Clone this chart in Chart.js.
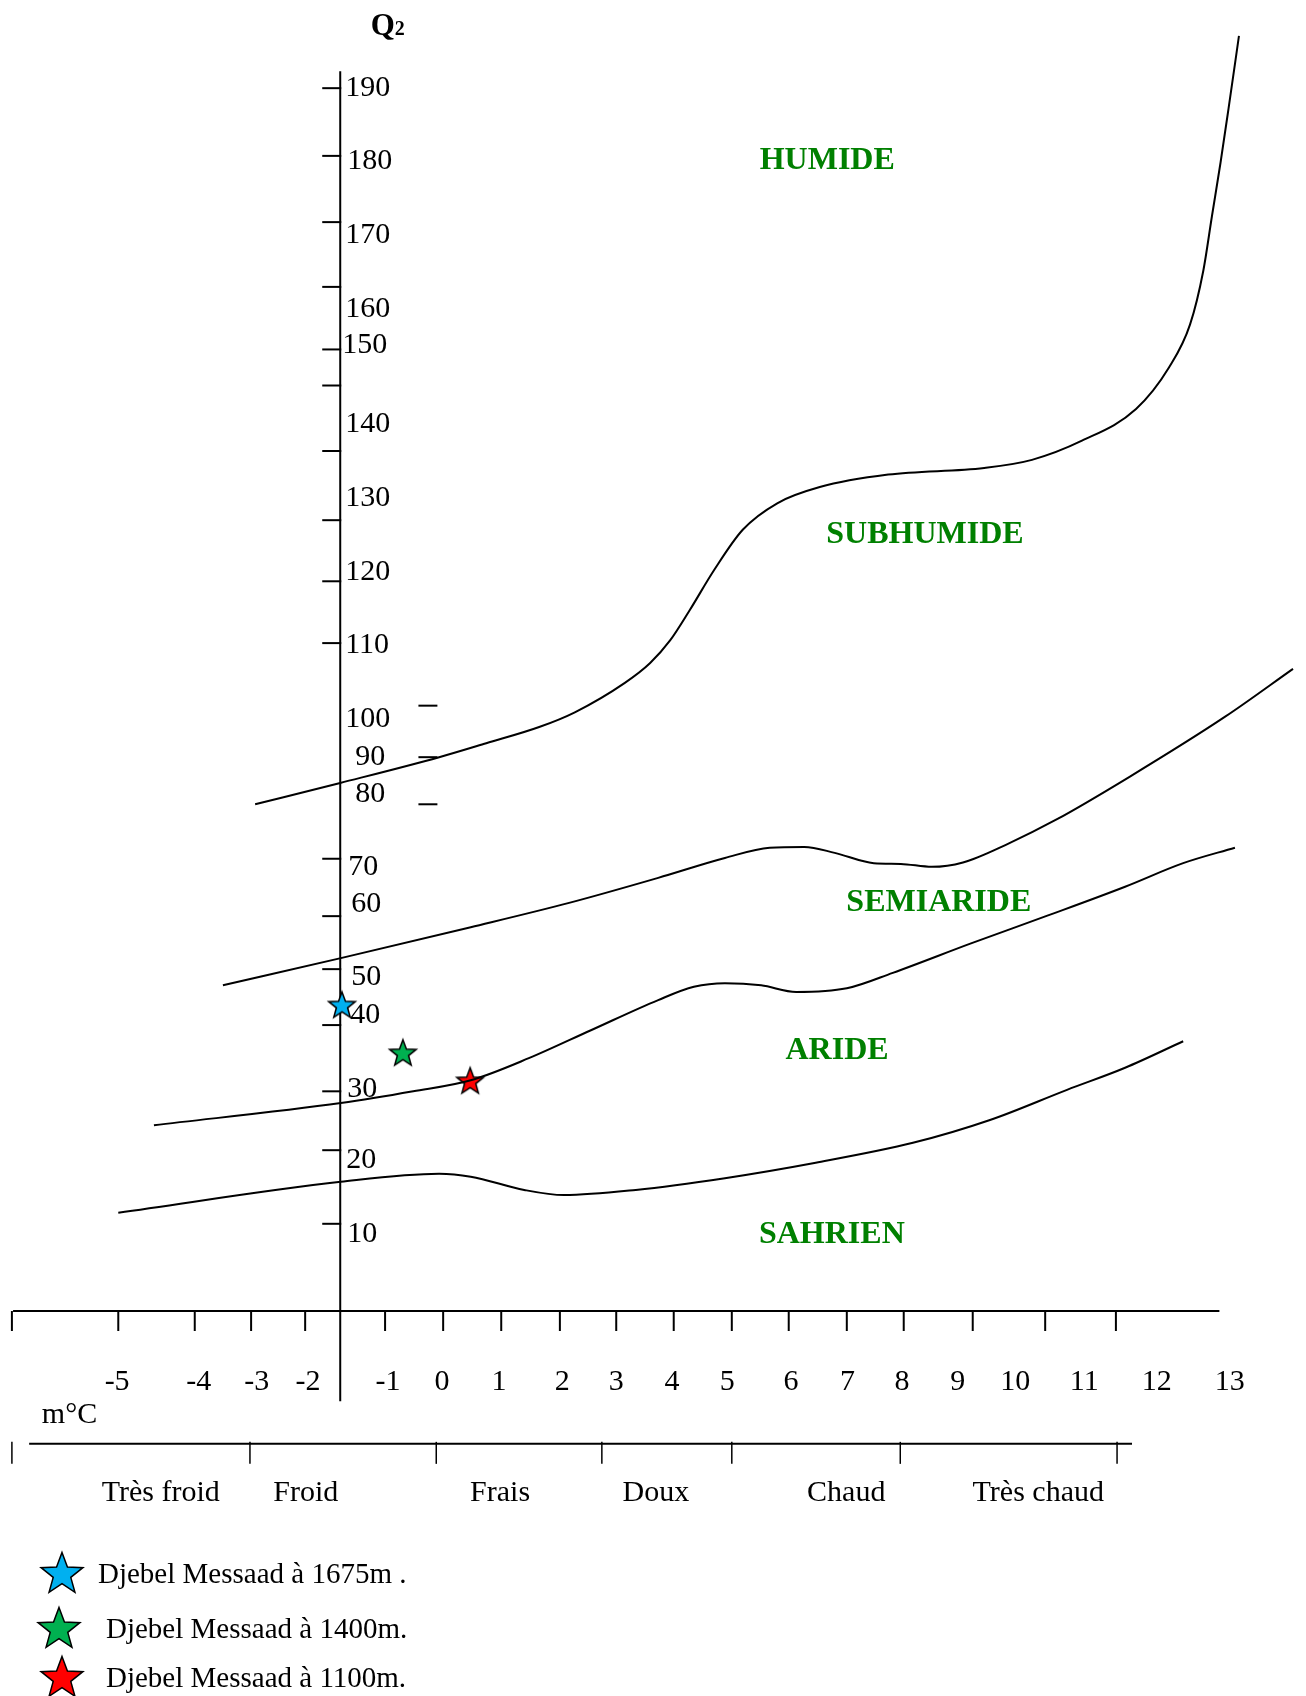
<!DOCTYPE html>
<html><head><meta charset="utf-8">
<script src="https://cdn.jsdelivr.net/npm/chart.js@4.4.1/dist/chart.umd.min.js"></script>
<style>html,body{margin:0;padding:0;background:#fff;}canvas{display:block;}</style>
</head><body>
<canvas id="c" width="1306" height="1696"></canvas>
<script>
// ---- Tick labels and positions (nominal units) ----
const xTickLabels = ['-5','-4','-3','-2','-1','0','1','2','3','4','5','6','7','8','9','10','11','12','13'];
const xLabelPos   = [-5.65,-4.23,-3.22,-2.33,-0.94,0,0.99,2.09,3.03,4.0,4.96,6.07,7.05,8.0,8.97,9.97,11.17,12.43,13.7];
const xTickMarks  = [-7.48,-5.63,-4.30,-3.32,-2.38,-0.99,0.02,1.03,2.05,3.03,4.03,5.04,6.03,7.04,8.03,9.23,10.49,11.72];
const yTickLabels = ['190','180','170','160','150','140','130','120','110','100','90','80','70','60','50','40','30','20','10'];
const yLabelPos   = [165.7,155.8,145.7,135.7,130.8,120.0,110.0,99.9,90.0,79.9,74.8,69.8,59.8,54.8,44.9,39.7,29.7,20.1,10.0];
const yTickMarks  = [165.4,156.2,147.2,138.4,129.9,125.0,116.1,106.7,98.4,90.0,60.7,52.9,45.7,38.1,29.1,21.1,11.1];
const strayMarksQ = [81.5,74.5,68.1];

// ---- Bioclimatic limit curves (m, Q2) ----
const humideM = [-3.25,-1.77,-0.05,0.77,1.69,2.31,3.18,3.62,3.97,4.31,4.73,5.23,5.83,6.57,7.76,9.43,10.26,11.13,12.07,12.64,13.01,13.24,13.39,13.54,13.68,13.86];
const humideQ = [68.1,71.0,74.5,76.4,78.6,80.6,84.6,87.3,90.4,94.5,99.9,105.4,109.0,111.2,112.9,113.8,114.9,117.5,121.8,127.4,133.3,140.6,148.0,155.3,162.7,172.5];
const subhumM = [-3.81,-1.76,0.50,2.21,3.76,4.92,5.70,6.30,6.83,7.51,7.98,8.52,9.06,9.86,10.68,11.95,13.62,14.80];
const subhumQ = [43.5,47.2,51.4,54.7,58.1,60.8,62.2,62.3,61.5,60.1,60.0,59.6,60.2,62.8,66.0,71.8,80.0,86.5];
const semiM   = [-5.01,-1.76,-0.50,0.50,1.51,2.59,3.76,4.38,4.92,5.55,6.16,7.04,7.84,9.20,10.54,11.88,12.89,13.79];
const semiQ   = [24.5,27.5,29.1,30.6,33.6,37.4,41.5,43.3,43.8,43.5,42.6,43.1,45.2,49.2,53.0,56.9,60.1,62.2];
const arideM  = [-5.63,-1.76,-0.05,0.50,1.43,2.12,3.37,4.92,6.50,8.19,9.53,10.87,11.88,12.89];
const arideQ  = [12.6,16.8,17.9,17.5,15.7,15.0,15.7,17.3,19.4,22.1,25.2,29.3,32.3,35.9];

// ---- Stations ----
const stationNames = ['Djebel Messaad à 1675m .','Djebel Messaad à 1400m.','Djebel Messaad à 1100m.'];
const stationM = [-1.74,-0.68,0.49];
const stationQ = [40.9,34.4,30.6];
const stationColors = ['#00b0f0','#00b050','#ff0000'];

// ---- Zones and thermal classes ----
const zoneNames = ['HUMIDE','SUBHUMIDE','SEMIARIDE','ARIDE','SAHRIEN'];
const zoneM = [6.70,8.40,8.64,6.87,6.78];
const zoneQ = [155.9,105.1,55.1,35.0,10.0];
const classNames = ['Très froid','Froid','Frais','Doux','Chaud','Très chaud'];
const classLabelM = [-4.89,-2.37,1.01,3.72,7.03,10.37];
const classBounds = [-7.48,-3.34,-0.10,2.78,5.04,7.97,11.74];

const X_MIN = -7.687, X_MAX = 15.026, Y_MIN = -53.06, Y_MAX = 177.38;

function starCanvas(R, fill) {
  const pad = 2, s = Math.ceil(2 * R + 2 * pad);
  const c = document.createElement('canvas'); c.width = s; c.height = s;
  const g = c.getContext('2d');
  g.beginPath();
  for (let i = 0; i < 10; i++) {
    const r = i % 2 ? R * 0.42 : R;
    const a = -Math.PI / 2 + i * Math.PI / 5;
    g.lineTo(s / 2 + r * Math.cos(a), s / 2 + 1.5 + r * Math.sin(a));
  }
  g.closePath(); g.fillStyle = fill; g.fill();
  g.lineWidth = 1.5; g.strokeStyle = '#000'; g.lineJoin = 'miter'; g.stroke();
  return c;
}
const plotStars = stationColors.map(c => starCanvas(14, c));
const legendStars = stationColors.map(c => starCanvas(22, c));

const zip = (a, b) => a.map((v, i) => ({x: v, y: b[i]}));
const curve = (m, q) => ({type: 'line', data: zip(m, q), borderColor: '#000', borderWidth: 2,
  pointRadius: 0, fill: false, cubicInterpolationMode: 'monotone'});

const SERIF = '"Liberation Serif", "Times New Roman", serif';
const Y_LABEL_INDENT = [0,2,0,0,-3,0,0,0,0,0,10,10,3,6,6,5,2,1,2];
const decor = {
  id: 'decor',
  beforeDatasetsDraw(chart) {
    const {ctx, scales: {x, y}} = chart;
    const X = v => x.getPixelForValue(v), Y = v => y.getPixelForValue(v);
    const line = (x1, y1, x2, y2) => { ctx.beginPath(); ctx.moveTo(x1, y1); ctx.lineTo(x2, y2); ctx.stroke(); };
    ctx.save();
    ctx.strokeStyle = '#000'; ctx.lineWidth = 2;
    const ax = X(-1.77), ay = Y(-0.75);
    line(ax, Y(167.7), ax, Y(-13.0));
    line(X(-7.46), ay, X(13.52), ay);
    yTickMarks.forEach(q => line(ax - 18, Y(q), ax + 1, Y(q)));
    strayMarksQ.forEach(q => line(X(-0.41), Y(q), X(-0.08), Y(q)));
    xTickMarks.forEach(m => line(X(m), ay, X(m), ay + 20));
    // thermal class band
    const by = Y(-18.8);
    ctx.lineWidth = 2;
    line(X(-7.18), by, X(12.0), by);
    ctx.lineWidth = 1.5;
    classBounds.forEach(m => line(X(m), by - 2, X(m), by + 20));
    // texts
    ctx.fillStyle = '#000';
    ctx.font = '30px ' + SERIF; ctx.textBaseline = 'alphabetic';
    ctx.textAlign = 'left';
    yTickLabels.forEach((t, i) => ctx.fillText(t, ax + 5 + Y_LABEL_INDENT[i], Y(yLabelPos[i]) + 10));
    ctx.textAlign = 'center';
    xTickLabels.forEach((t, i) => ctx.fillText(t, X(xLabelPos[i]), Y(-10.1) + 10));
    classNames.forEach((t, i) => ctx.fillText(t, X(classLabelM[i]), Y(-25.2) + 10));
    ctx.textAlign = 'left';
    ctx.fillText('m°C', X(-6.96), Y(-15.9));
    ctx.font = 'bold 31px ' + SERIF;
    ctx.fillText('Q', X(-1.24), Y(172.6));
    const qw = ctx.measureText('Q').width;
    ctx.font = 'bold 20px ' + SERIF;
    ctx.fillText('2', X(-1.24) + qw, Y(172.6));
    ctx.font = 'bold 32px ' + SERIF; ctx.fillStyle = '#008000'; ctx.textAlign = 'center';
    zoneNames.forEach((t, i) => ctx.fillText(t, X(zoneM[i]), Y(zoneQ[i]) + 11));
    // legend
    ctx.fillStyle = '#000'; ctx.font = '29px ' + SERIF; ctx.textAlign = 'left';
    const lg = [[62, 1573, 98], [59, 1628, 106], [62, 1677, 106]];
    lg.forEach((p, i) => {
      const s = legendStars[i];
      ctx.drawImage(s, p[0] - s.width / 2, p[1] - s.height / 2);
      ctx.fillText(stationNames[i], p[2], p[1] + 10);
    });
    ctx.restore();
  }
};

new Chart(document.getElementById('c').getContext('2d'), {
  type: 'line',
  data: {
    datasets: [
      curve(humideM, humideQ),
      curve(subhumM, subhumQ),
      curve(semiM, semiQ),
      curve(arideM, arideQ),
      {type: 'scatter', data: zip(stationM, stationQ), pointStyle: plotStars, pointRadius: 14, showLine: false}
    ]
  },
  options: {
    responsive: false, animation: false, devicePixelRatio: 1,
    layout: {padding: 0, autoPadding: false},
    plugins: {legend: {display: false}, tooltip: {enabled: false}},
    scales: {
      x: {type: 'linear', min: X_MIN, max: X_MAX, display: false},
      y: {type: 'linear', min: Y_MIN, max: Y_MAX, display: false}
    }
  },
  plugins: [decor]
});
</script>
</body></html>
